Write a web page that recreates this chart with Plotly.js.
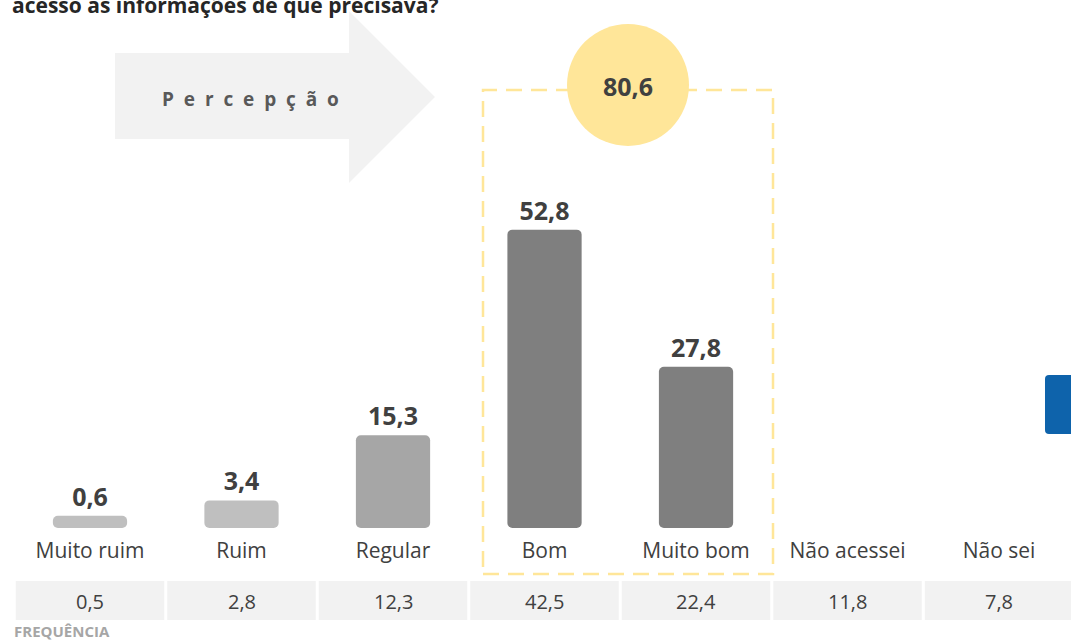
<!DOCTYPE html>
<html>
<head>
<meta charset="utf-8">
<script src="https://cdn.plot.ly/plotly-3.0.1.min.js"></script>
<style>html,body{margin:0;padding:0;background:#fff;}#chart{width:1071px;height:641px;}</style>
</head>
<body>
<div id="chart"></div>
<script>
// ---- data ----
const categories = ["Muito ruim", "Ruim", "Regular", "Bom", "Muito bom", "Não acessei", "Não sei"];
const percepcao = [0.6, 3.4, 15.3, 52.8, 27.8, null, null];
const frequencia = [0.5, 2.8, 12.3, 42.5, 22.4, 11.8, 7.8];
const barColors = ["#BFBFBF", "#BFBFBF", "#A6A6A6", "#7F7F7F", "#7F7F7F", "#7F7F7F", "#7F7F7F"];
const totalPositivo = 80.6;
const titleText = "acesso às informações de que precisava?";
const arrowLabel = "Percepção";
const tableLabel = "FREQUÊNCIA";

// ---- helpers ----
const W = 1071, H = 641;
const xp = px => px / W;
const yp = py => 1 - py / H;
const fmt = v => v.toFixed(1).replace('.', ',');
const FONT = "Open Sans, Lato, sans-serif";
const DARK = "#404040";

// value axis: the category axis crosses at AXIS_MIN, bars grow from there (as in the original)
const AXIS_MIN = -1.64;
const AXIS_MAX = 83.76;

const trace = {
  type: "bar",
  x: categories,
  base: AXIS_MIN,
  y: percepcao.map(v => v == null ? null : v - AXIS_MIN),
  width: 0.49,
  marker: { color: barColors, line: { width: 0 } },
  text: percepcao.map(v => v == null ? "" : "<b>" + fmt(v) + "</b>"),
  textposition: "outside",
  textfont: { family: FONT, size: 25, color: DARK },
  texttemplate: "%{text}",
  constraintext: "none",
  cliponaxis: false,
  hoverinfo: "skip"
};

const shapes = [];
const annotations = [];

// arrow
function pathPx(points) {
  return "M" + points.map(p => xp(p[0]).toFixed(5) + "," + yp(p[1]).toFixed(5)).join(" L") + " Z";
}
shapes.push({
  type: "path", xref: "paper", yref: "paper", layer: "below",
  path: pathPx([[115, 53], [349, 53], [349, 11], [435, 97], [349, 183], [349, 139], [115, 139]]),
  fillcolor: "#F2F2F2", line: { width: 0 }
});
annotations.push({
  xref: "paper", yref: "paper", x: xp(250), y: yp(99), xanchor: "center", yanchor: "middle",
  text: "<b>" + arrowLabel.split("").join("\u00A0\u00A0") + "</b>", showarrow: false,
  font: { family: FONT, size: 19, color: "#595959" }
});

// dashed highlight box
shapes.push({
  type: "rect", xref: "paper", yref: "paper", layer: "above",
  x0: xp(483), x1: xp(773), y0: yp(574), y1: yp(90),
  line: { color: "#FFE699", width: 2.5, dash: "16px,9px" }, fillcolor: "rgba(0,0,0,0)"
});
// circle
shapes.push({
  type: "circle", xref: "paper", yref: "paper", layer: "above",
  x0: xp(567), x1: xp(689), y0: yp(146), y1: yp(24),
  fillcolor: "#FFE699", line: { width: 0 }
});
annotations.push({
  xref: "paper", yref: "paper", x: xp(628), y: yp(86), xanchor: "center", yanchor: "middle",
  text: "<b>" + fmt(totalPositivo) + "</b>", showarrow: false,
  font: { family: FONT, size: 25, color: DARK }
});

// table row
frequencia.forEach((v, i) => {
  shapes.push({
    type: "rect", xref: "x", yref: "paper", layer: "below",
    x0: i - 0.49, x1: i + 0.49, y0: yp(620), y1: yp(581),
    fillcolor: "#F2F2F2", line: { width: 0 }
  });
  annotations.push({
    xref: "x", yref: "paper", x: i, y: yp(601), xanchor: "center", yanchor: "middle",
    text: fmt(v), showarrow: false, font: { family: FONT, size: 20, color: DARK }
  });
});
annotations.push({
  xref: "paper", yref: "paper", x: xp(12), y: yp(631), xanchor: "left", yanchor: "middle",
  text: "<b>" + tableLabel + "</b>", showarrow: false,
  font: { family: FONT, size: 15, color: "#A6A6A6" }
});

// title (cut at top, as in the original crop)
annotations.push({
  xref: "paper", yref: "paper", x: xp(10), y: yp(5), xanchor: "left", yanchor: "middle",
  text: "<b>" + titleText + "</b>", showarrow: false,
  font: { family: FONT, size: 21, color: "#262626" }
});

// blue tab at right edge
(function () {
  const x0 = 1045, x1 = 1085, y0 = 375, y1 = 434, r = 4;
  const p = (x, y) => xp(x).toFixed(5) + "," + yp(y).toFixed(5);
  const path = "M" + p(x0 + r, y0) + " L" + p(x1, y0) + " L" + p(x1, y1) + " L" + p(x0 + r, y1) +
    " Q" + p(x0, y1) + " " + p(x0, y1 - r) + " L" + p(x0, y0 + r) + " Q" + p(x0, y0) + " " + p(x0 + r, y0) + " Z";
  shapes.push({ type: "path", xref: "paper", yref: "paper", path: path, fillcolor: "#0E63AB", line: { width: 0 } });
})();

const layout = {
  width: W, height: H,
  margin: { l: 0, r: 0, t: 0, b: 0, pad: 0 },
  paper_bgcolor: "#FFFFFF", plot_bgcolor: "rgba(0,0,0,0)",
  showlegend: false,
  barcornerradius: 5,
  xaxis: {
    domain: [0, 1], range: [-0.594, 6.475], type: "category", automargin: false,
    showgrid: false, zeroline: false, showline: false, ticks: "",
    ticklabelstandoff: 8,
    tickfont: { family: FONT, size: 21, color: DARK },
    fixedrange: true
  },
  yaxis: {
    domain: [yp(528), yp(60)], range: [AXIS_MIN, AXIS_MAX], automargin: false,
    visible: false, showgrid: false, zeroline: false, fixedrange: true
  },
  shapes: shapes,
  annotations: annotations
};

Plotly.newPlot("chart", [trace], layout, { displayModeBar: false, staticPlot: true });
</script>
</body>
</html>
